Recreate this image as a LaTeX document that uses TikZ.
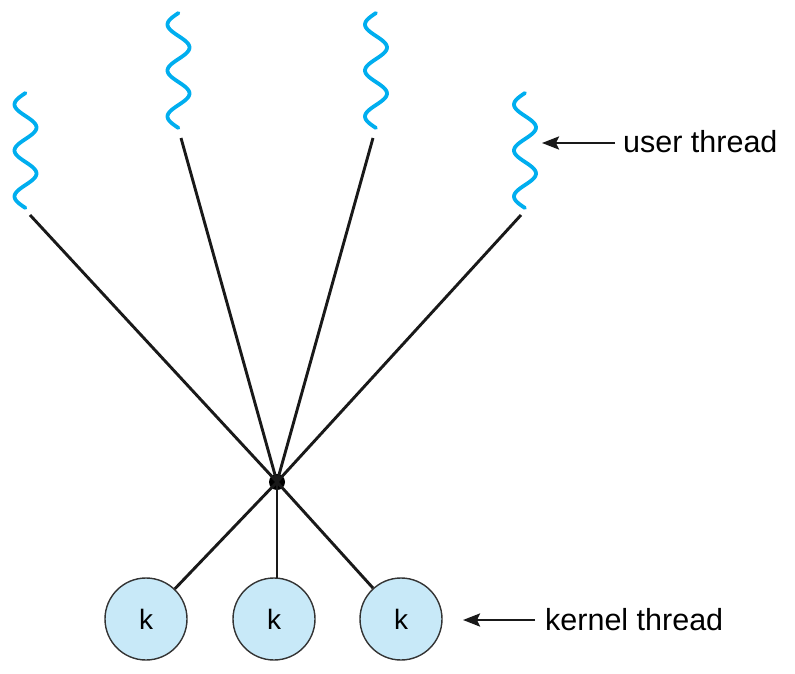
\documentclass[tikz,border=0pt]{standalone}
\usepackage{fontspec}
\setmainfont{Liberation Sans}
\usetikzlibrary{arrows.meta}
\definecolor{wavecol}{HTML}{00AEEF}
\definecolor{kfill}{HTML}{C8E9F8}
\definecolor{kline}{HTML}{333333}
\begin{document}
\begin{tikzpicture}[x=1pt,y=-1pt,
  wave/.style={draw=wavecol,line width=3.8pt,line cap=round},
  conn/.style={draw=black!90,line width=2.9pt},
  knode/.style={circle,draw=kline,line width=1.4pt,fill=kfill,minimum size=82pt,inner sep=0pt,font=\fontsize{28}{30}\selectfont},
  hubnode/.style={circle,fill=black,minimum size=16pt,inner sep=0pt},
  lbl/.style={font=\fontsize{30.5}{32}\selectfont,inner sep=0pt,anchor=base west},
  pointer/.style={draw=black!90,line width=2.6pt,-{Stealth[length=17pt,width=13pt,inset=3pt]}}]
\useasboundingbox (0,0) rectangle (795,674);
% user threads (wavy)
\draw[wave] plot[domain=0:2.5,samples=80,smooth] ({25.5-11*sin(\x*360)},{93+46*\x});
\draw[wave] plot[domain=0:2.5,samples=80,smooth] ({178.5-11*sin(\x*360)},{13+46*\x});
\draw[wave] plot[domain=0:2.5,samples=80,smooth] ({376-11*sin(\x*360)},{13+46*\x});
\draw[wave] plot[domain=0:2.5,samples=80,smooth] ({525-11*sin(\x*360)},{93+46*\x});
% connector ends below the threads
\coordinate (u1) at (30,215);
\coordinate (u2) at (181,138);
\coordinate (u3) at (373,138);
\coordinate (u4) at (521,215);
% hub
\node[hubnode] (hub) at (277,482) {};
% kernel threads
\node[knode] (k1) at (146,619) {k};
\node[knode] (k2) at (274,619) {k};
\node[knode] (k3) at (401,619) {k};
% connectors
\draw[conn] (u1) -- (hub.center);
\draw[conn] (u2) -- (hub.center);
\draw[conn] (u3) -- (hub.center);
\draw[conn] (u4) -- (hub.center);
\draw[conn] (hub.center) -- (k1);
\draw[conn] (hub.center) -- (277,578);
\draw[conn] (hub.center) -- (k3);
% labels
\node[lbl] (ut) at (623,153) {user thread};
\node[lbl] (kt) at (545,630) {kernel thread};
\coordinate (utip) at (542,143);
\coordinate (ktip) at (463,620);
\draw[pointer] (615,143) -- (utip);
\draw[pointer] (535,620) -- (ktip);
\end{tikzpicture}
\end{document}
